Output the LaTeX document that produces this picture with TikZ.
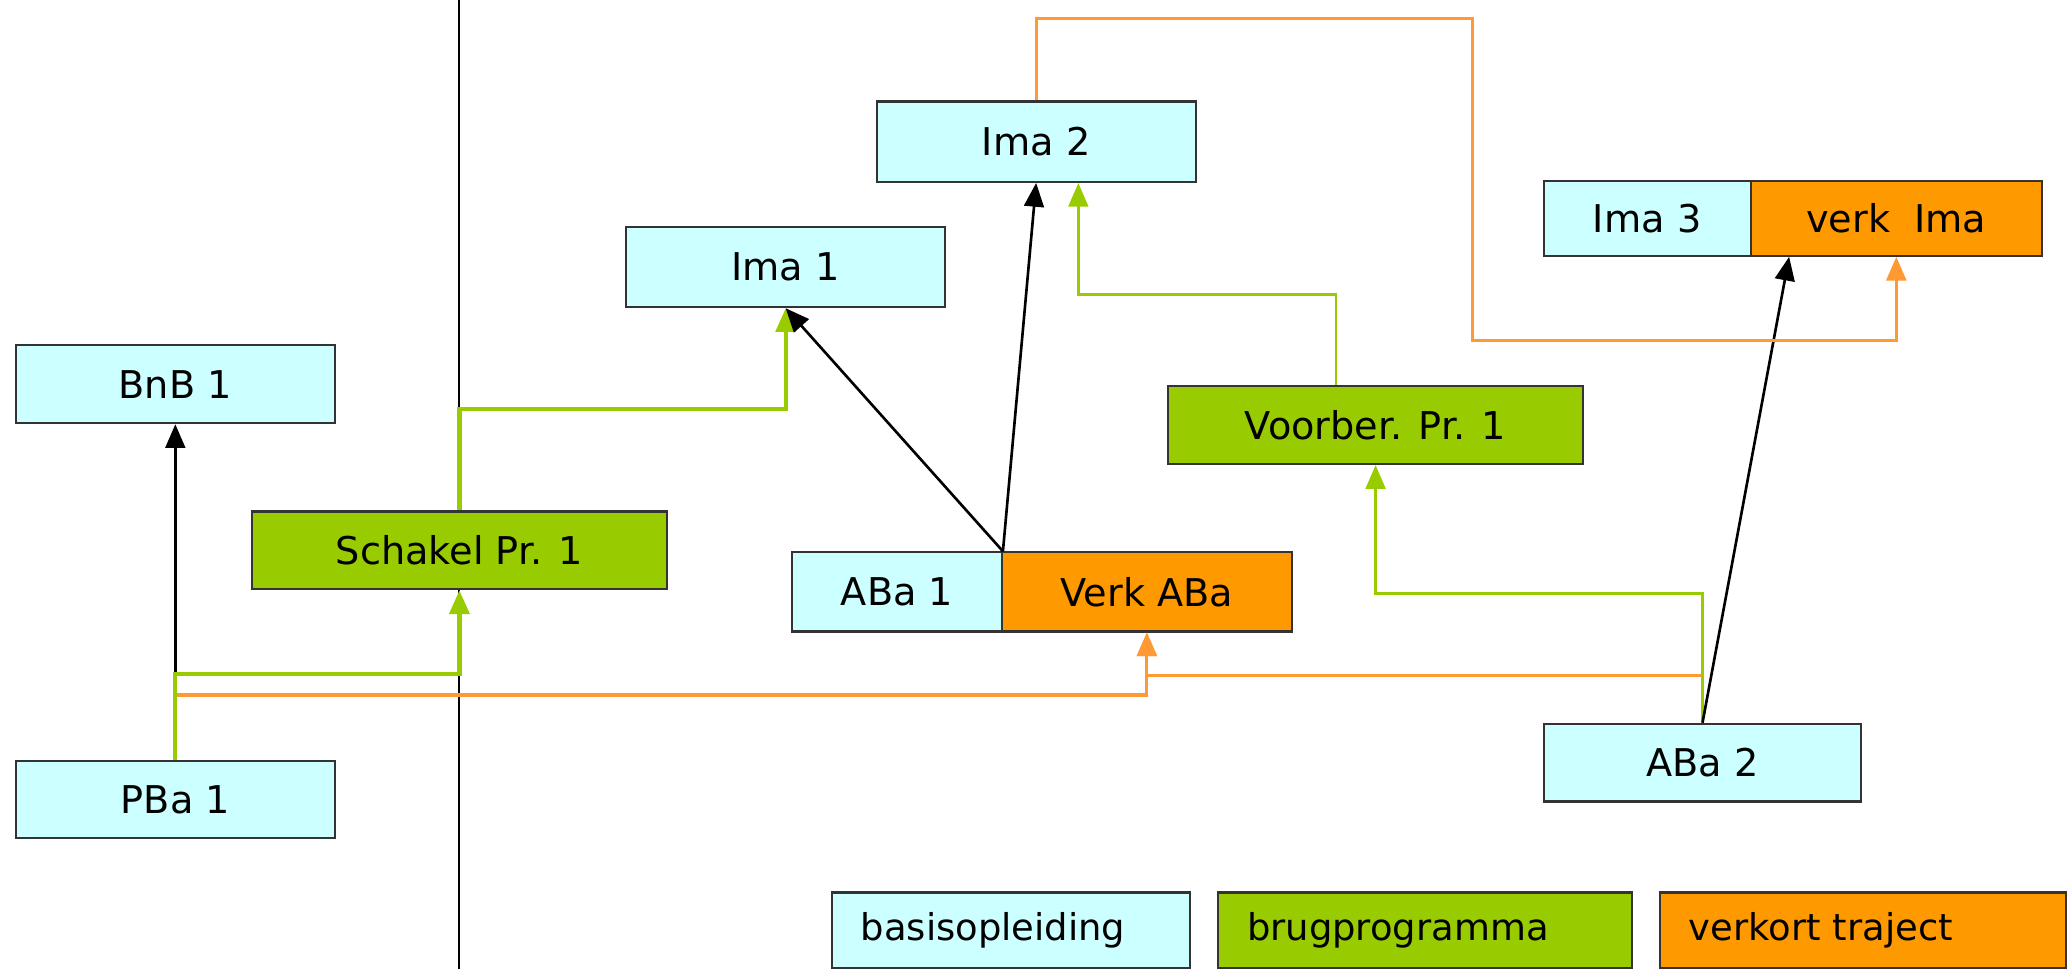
\documentclass[tikz,border=0pt]{standalone}
\usepackage{fontspec}
\setmainfont{DejaVu Sans}
\usetikzlibrary{arrows.meta,calc}
\definecolor{cyanfill}{HTML}{CCFFFF}
\definecolor{greenfill}{HTML}{99CC00}
\definecolor{orangefill}{HTML}{FF9900}
\definecolor{greenline}{HTML}{99CC00}
\definecolor{orangeline}{HTML}{FF9933}
\definecolor{border}{HTML}{333333}
\tikzset{
  box/.style={draw=border, line width=0.8pt, inner sep=0pt, minimum height=29.5pt,
    font=\fontsize{14.5}{17}\selectfont, text=black},
  cbox/.style={box, fill=cyanfill},
  gbox/.style={box, fill=greenfill},
  obox/.style={box, fill=orangefill},
  legend/.style={draw=border, line width=0.8pt, inner xsep=11pt, inner ysep=0pt, minimum height=28.5pt,
    align=left, font=\fontsize{14}{17}\selectfont},
  tip/.style={-{Triangle[length=9pt,width=7.5pt]}},
  blk/.style={tip, draw=black, line width=1pt},
  grnthick/.style={tip, draw=greenline, line width=1.6pt},
  grnthin/.style={tip, draw=greenline, line width=1pt},
  org/.style={tip, draw=orangeline, line width=1.2pt},
}
\begin{document}
\begin{tikzpicture}[x=0.5pt,y=-0.5pt]
\useasboundingbox (0,0) rectangle (1568,735);
% divider
\coordinate (dtop) at (348,0);
\coordinate (dbot) at (348,735);
\draw[black, line width=0.8pt] (dtop) -- (dbot);

% nodes
\node[cbox, minimum width=121pt] (bnb) at (133,291.5) {BnB 1};
\node[cbox, minimum width=121pt] (pba) at (133,606.5) {PBa 1};
\node[gbox, minimum width=157.5pt] (sch) at (348.5,417.5) {Schakel Pr. 1};
\node[cbox, minimum width=121pt, minimum height=30.5pt] (ima1) at (596,202.5) {Ima 1};
\node[cbox, minimum width=121pt, minimum height=30.5pt] (ima2) at (786,107.5) {Ima 2};
\node[cbox, minimum width=79.5pt, minimum height=30pt] (aba1) at (680.5,449) {ABa 1};
\node[obox, minimum width=110pt, minimum height=30pt] (verkaba) at (870,449) {Verk ABa};
\node[gbox, minimum width=157.5pt] (voor) at (1043.5,322.5) {Voorber. Pr. 1};
\node[cbox, minimum width=78.5pt, minimum height=28.5pt] (ima3) at (1249.5,165.5) {Ima 3};
\node[obox, minimum width=110.5pt, minimum height=28.5pt] (verkima) at (1438.5,165.5) {verk\ \ Ima};
\node[cbox, minimum width=120.5pt] (aba2) at (1291.5,578.5) {ABa 2};

% legend
\node[legend, fill=cyanfill, text width=114pt] (lg1) at (767,705.5) {basisopleiding};
\node[legend, fill=greenfill, text width=135pt] (lg2) at (1081,705.5) {brugprogramma};
\node[legend, fill=orangefill, text width=132pt] (lg3) at (1413,705.5) {verkort traject};

% connectors
\draw[blk] (pba.north) -- (bnb.south);
\coordinate (po) at ($(pba.north)+(0,-49)$);
\draw[org] (po) -| (verkaba.south);
\draw[org] (aba2.north) -- ++(0,-36) -| (verkaba.south);
\draw[grnthick] (pba.north) -- ++(0,-65) -| (sch.south);
\draw[grnthick] (sch.north) -- ++(0,-77) -| (ima1.south);
\draw[blk] (aba1.north east) -- (ima1.south);
\draw[blk] (aba1.north east) -- (ima2.south);
\draw[grnthin] ($(voor.north)+(-30,0)$) -- ++(0,-69) -| ($(ima2.south)+(32,0)$);
\draw[grnthin] (aba2.north) -- ++(0,-98) -| (voor.south);
\draw[blk] (aba2.north) -- ($(verkima.south west)+(30,0)$);
\coordinate (t1) at (1117,14);
\coordinate (t2) at (1117,258);
\draw[org] (ima2.north) |- (t1) -- (t2) -| (verkima.south);
\end{tikzpicture}
\end{document}
